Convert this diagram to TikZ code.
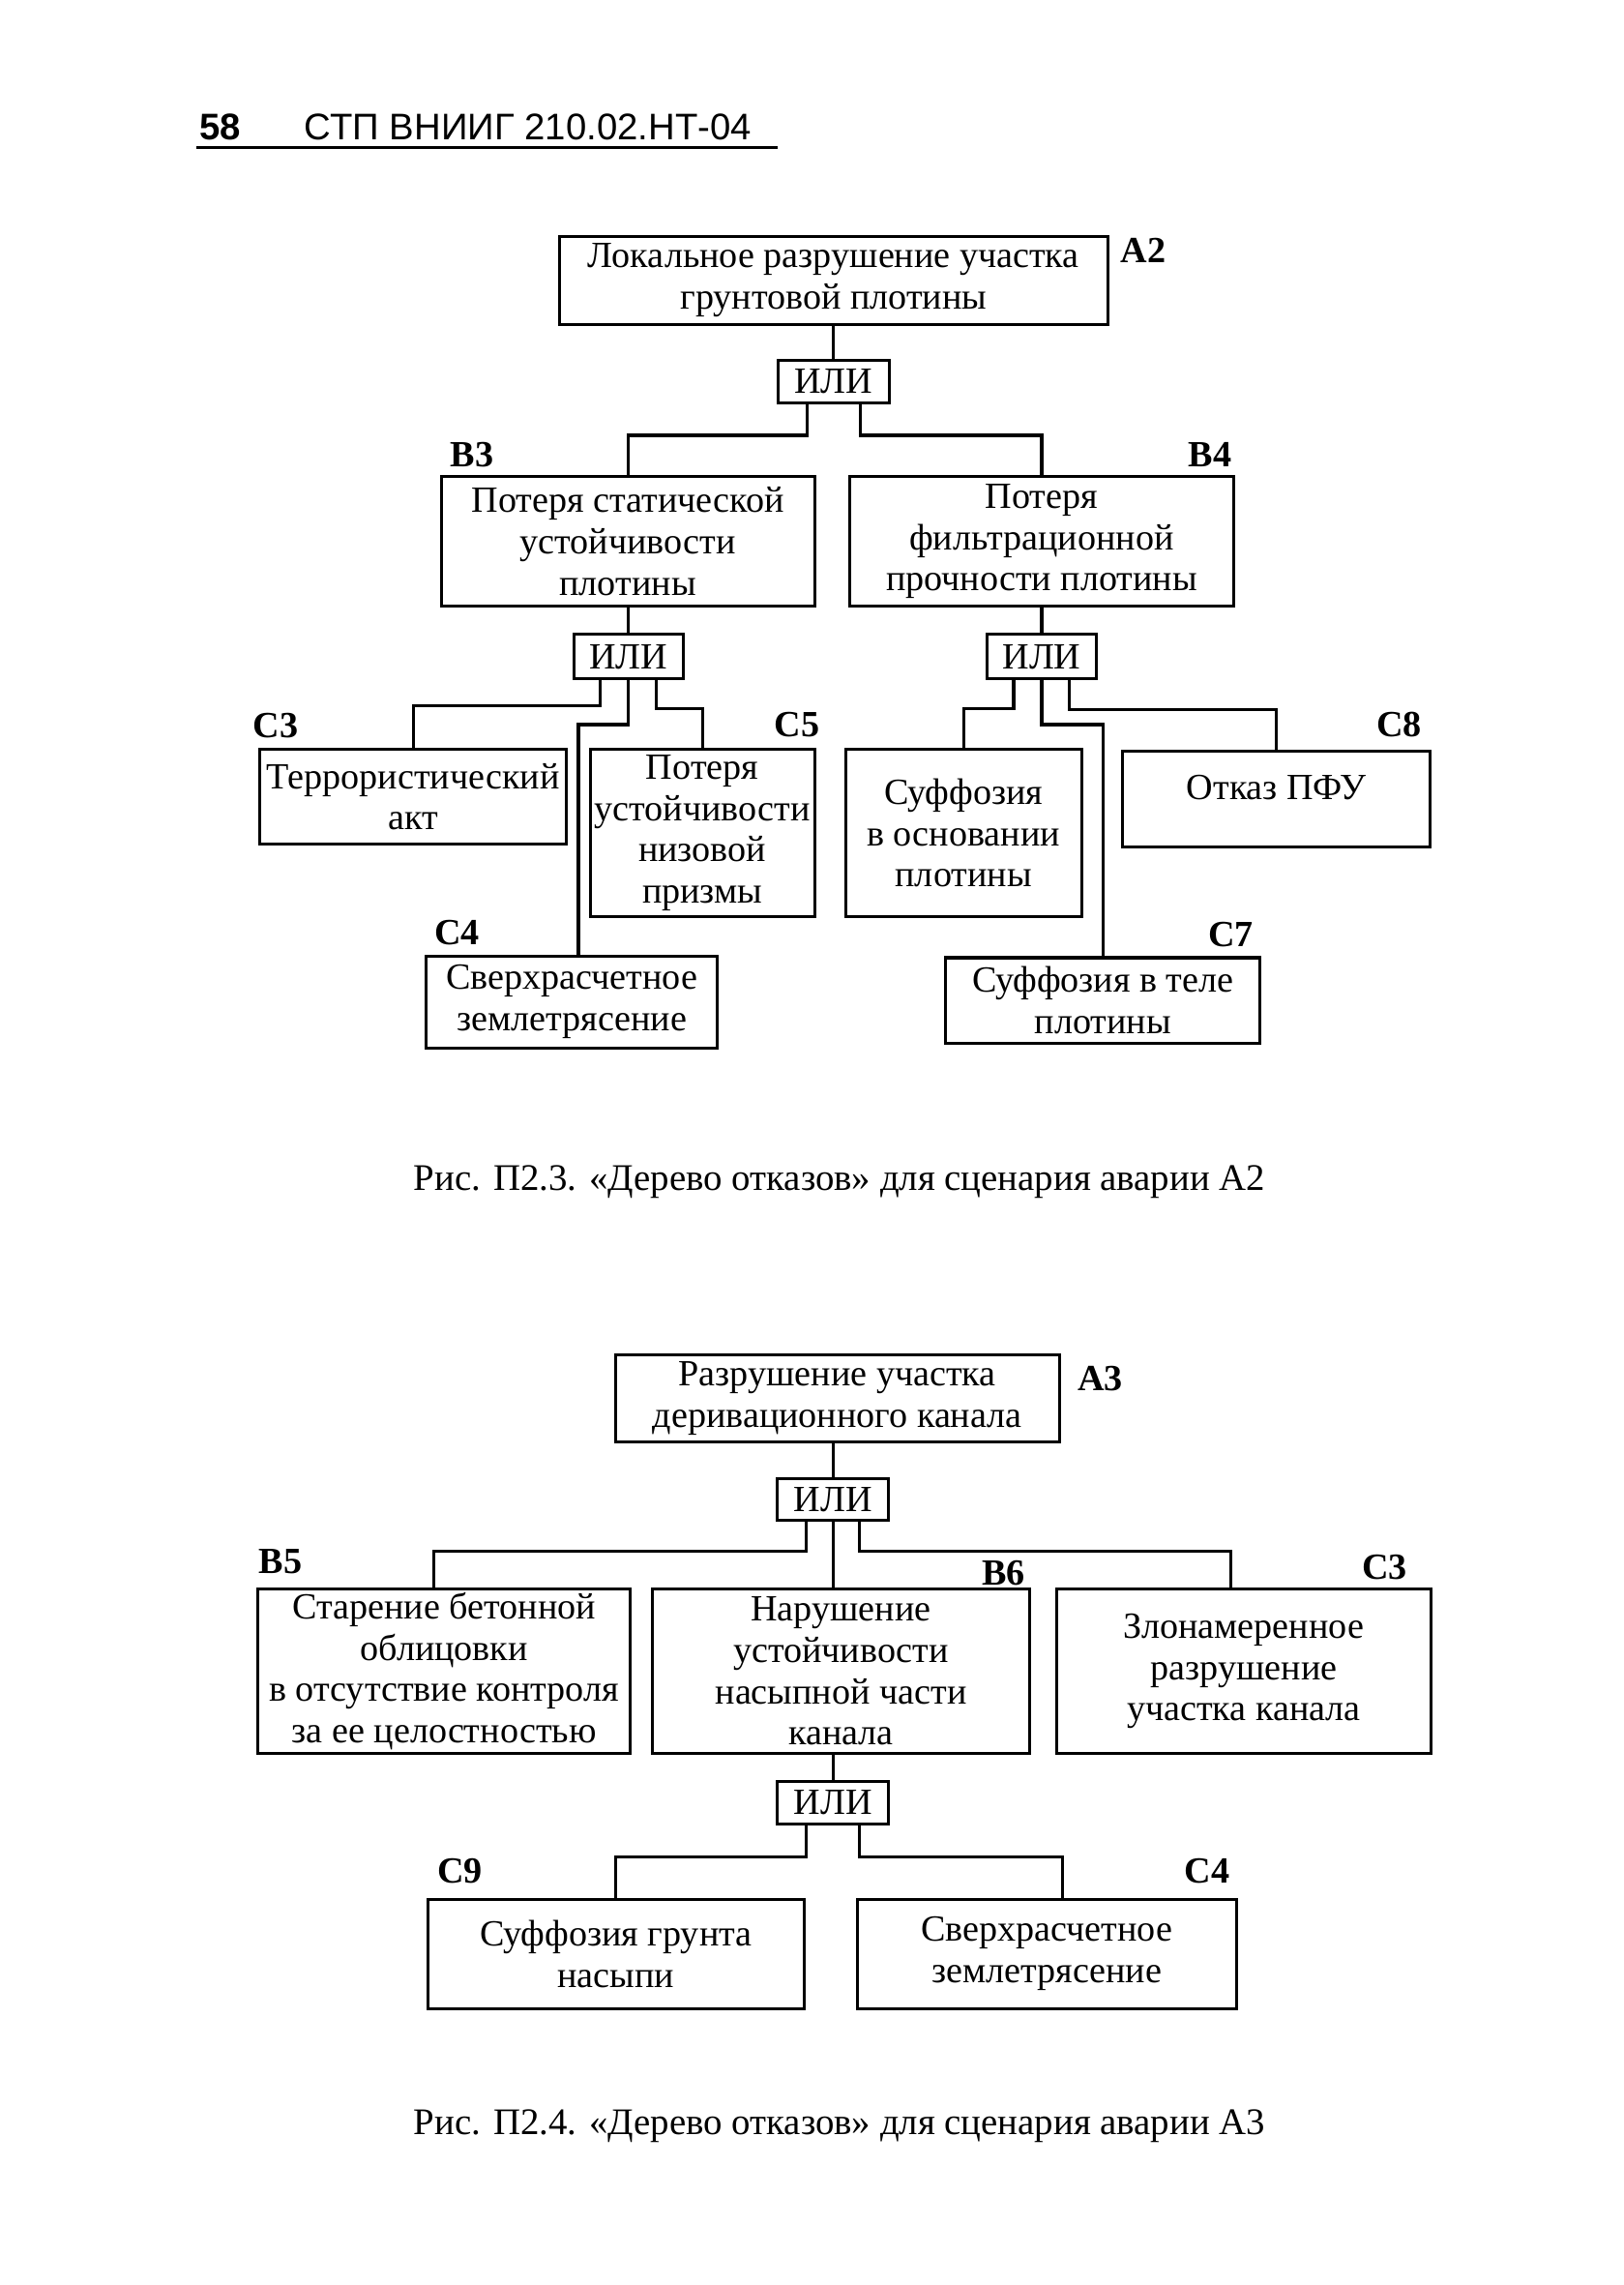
\documentclass[tikz,border=0pt]{standalone}
\usepackage{fontspec}
\setmainfont{Liberation Serif}
\newfontfamily\hdrfont{Liberation Sans}
\usetikzlibrary{calc}
\newcommand\txtfont{\fontsize{11.25}{12.6}\selectfont}
\newcommand\bx[7][]{\node[box,#1, minimum width={(#5-#3)*0.45pt}, minimum height={(#6-#4)*0.45pt}] (#2) at ({(#3+#5)/2},{(#4+#6)/2}) {#7};}
\begin{document}
\begin{tikzpicture}[x=0.45pt,y=-0.45pt,
 box/.style={draw,line width=0.9pt,inner sep=0pt,align=center,font=\txtfont},
 tag/.style={inner sep=0pt,font=\txtfont\bfseries},
 wire/.style={line width=0.9pt},
 capt/.style={inner sep=0pt,font=\fontsize{11.45}{13}\selectfont}]
\useasboundingbox (0,0) rectangle (1100,1548.4);
\fill[white] (0,0) rectangle (1100,1548.4);
% header
\node[inner sep=0pt,anchor=base west,font=\hdrfont\bfseries\fontsize{11.3}{13}\selectfont] (hnum) at (135,95) {58};
\node[inner sep=0pt,anchor=base west,font=\hdrfont\fontsize{11.3}{13}\selectfont] (htitle) at (206,95) {СТП ВНИИГ 210.02.НТ-04};
\draw[line width=1.1pt] (133,100) -- (527,100);
% diagram 1
\bx{a2}{379}{160}{751}{220}{Локальное разрушение участка\\грунтовой плотины}
\node[tag,anchor=west] (la2) at (759,170) {А2};
\bx{or1}{527.5}{244}{602.5}{273}{ИЛИ}
\draw[wire] (or1.north |- a2.south) -- (or1.north);
\bx{b3}{299}{323}{552}{411}{Потеря статической\\устойчивости\\плотины}
\bx{b4}{576}{323}{836}{411}{Потеря\\фильтрационной\\прочности плотины}
\node[tag,anchor=west] (lb3) at (305,308) {В3};
\node[tag,anchor=east] (lb4) at (835,308) {В4};
\draw[wire] ($(or1.south)+(-18,0)$) |- ($(b3.north)+(0,-27)$) -- (b3.north);
\draw[wire] ($(or1.south)+(18,0)$) |- ($(b4.north)+(0,-27)$) -- (b4.north);
\bx{or2}{389}{430}{463}{460}{ИЛИ}
\bx{or3}{669}{430}{743}{460}{ИЛИ}
\draw[wire] (or2.north |- b3.south) -- (or2.north);
\draw[wire] (or3.north |- b4.south) -- (or3.north);
\bx{c3}{176}{508}{384}{572}{Террористический\\акт}
\bx{c5}{400}{508}{552}{621}{Потеря\\устойчивости\\низовой\\призмы}
\bx{c4}{289}{648}{486}{710}{Сверхрасчетное\\землетрясение}
\bx{c6}{573}{508}{733}{621}{Суффозия\\в основании\\плотины}
\bx[text depth=7.2pt]{c8}{761}{509}{969}{574}{Отказ ПФУ}
\bx{c7}{641}{649}{854}{707}{Суффозия в теле\\плотины}
\node[tag,anchor=west] (lc3) at (171,492) {С3};
\node[tag,anchor=east] (lc5) at (556,491) {С5};
\node[tag,anchor=west] (lc4) at (294,632) {С4};
\node[tag,anchor=east] (lc8) at (964,491) {С8};
\node[tag,anchor=east] (lc7) at (850,633) {С7};
\draw[wire] ($(or2.south)+(-19,0)$) |- ($(c3.north)+(0,-29)$) -- (c3.north);
\draw[wire] (or2.south) |- ($(c4.north)+(4.5,-156)$) -- ($(c4.north)+(4.5,0)$);
\draw[wire] ($(or2.south)+(19,0)$) |- ($(c5.north)+(0,-27)$) -- (c5.north);
\draw[wire] ($(or3.south)+(-19,0)$) |- ($(c6.north)+(0,-27)$) -- (c6.north);
\draw[wire] (or3.south) |- ($(c7.north)+(0,-157)$) -- (c7.north);
\draw[wire] ($(or3.south)+(19,0)$) |- ($(c8.north)+(0,-27)$) -- (c8.north);
\node[capt] (cap1) at (569,801) {Рис. П2.3. «Дерево отказов» для сценария аварии А2};
% diagram 2
\bx{a3}{417}{918}{718}{977}{Разрушение участка\\деривационного канала}
\node[tag,anchor=west] (la3) at (730,934) {А3};
\bx{or4}{527}{1002}{602}{1030}{ИЛИ}
\draw[wire] (or4.north |- a3.south) -- (or4.north);
\bx{b5}{175}{1077}{427}{1188}{Старение бетонной\\облицовки\\в отсутствие контроля\\за ее целостностью}
\bx{b6}{442}{1077}{698}{1188}{Нарушение\\устойчивости\\насыпной части\\канала}
\bx{c3b}{716}{1077}{970}{1188}{Злонамеренное\\разрушение\\участка канала}
\node[tag,anchor=west] (lb5) at (175,1058) {В5};
\node[tag,anchor=east] (lb6) at (695,1066) {В6};
\node[tag,anchor=east] (lc3b) at (954,1062) {С3};
\draw[wire] ($(or4.south)+(-18,0)$) |- ($(b5.north)+(-7,-25)$) -- ($(b5.north)+(-7,0)$);
\draw[wire] (or4.south) -- (or4.south |- b6.north);
\draw[wire] ($(or4.south)+(18,0)$) |- ($(c3b.north)+(-9,-25)$) -- ($(c3b.north)+(-9,0)$);
\bx{or5}{527}{1207}{602}{1236}{ИЛИ}
\draw[wire] (or5.north |- b6.south) -- (or5.north);
\bx{c9}{290}{1287}{545}{1361}{Суффозия грунта\\насыпи}
\bx{c4b}{581}{1287}{838}{1361}{Сверхрасчетное\\землетрясение}
\node[tag,anchor=west] (lc9) at (296,1268) {С9};
\node[tag,anchor=east] (lc4b) at (834,1268) {С4};
\draw[wire] ($(or5.south)+(-18,0)$) |- ($(c9.north)+(0,-28)$) -- (c9.north);
\draw[wire] ($(or5.south)+(18,0)$) |- ($(c4b.north)+(10.5,-28)$) -- ($(c4b.north)+(10.5,0)$);
\node[capt] (cap2) at (569,1441) {Рис. П2.4. «Дерево отказов» для сценария аварии А3};
\end{tikzpicture}
\end{document}
